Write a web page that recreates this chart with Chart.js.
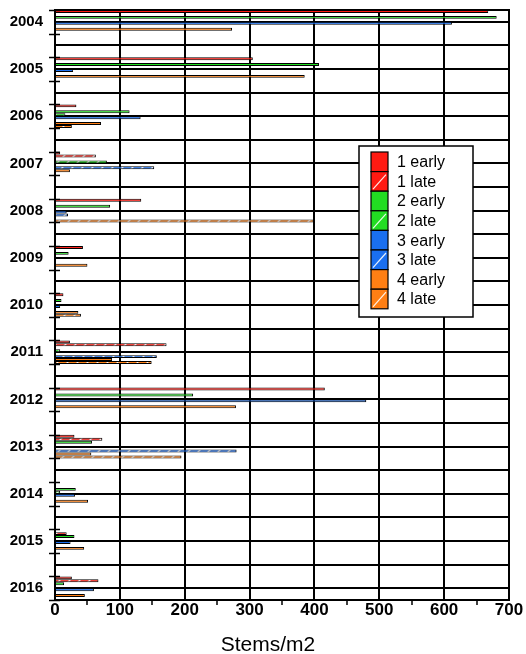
<!DOCTYPE html>
<html>
<head>
<meta charset="utf-8">
<script src="https://cdn.jsdelivr.net/npm/chart.js@4"></script>
<style>
  html, body { margin: 0; padding: 0; background: #fff; }
  canvas { display: block; }
</style>
</head>
<body>
<canvas id="c" width="526" height="654"></canvas>
<script>
// Years on the category axis (top to bottom)
const years = ['2004', '2005', '2006', '2007', '2008', '2009', '2010',
               '2011', '2012', '2013', '2014', '2015', '2016'];

// Series names
const seriesNames = ['1 early', '1 late', '2 early', '2 late',
                     '3 early', '3 late', '4 early', '4 late'];

// Stem density (stems/m2) per year, one array per site and sampling time
const early1 = [668, 305, 33, 8, 133, 43, 13, 23, 416, 30, 0, 0, 26];
const late1  = [0, 0, 0, 63, 0, 0, 0, 172, 0, 73, 0, 18, 67];
const early2 = [681, 407, 115, 0, 85, 21, 10, 0, 213, 57, 32, 30, 14];
const late2  = [0, 0, 16, 80, 0, 0, 0, 8, 0, 0, 8, 0, 0];
const early3 = [612, 28, 132, 0, 18, 0, 8, 0, 480, 0, 31, 24, 60];
const late3  = [0, 0, 0, 153, 20, 0, 0, 157, 0, 280, 0, 0, 0];
const early4 = [273, 385, 71, 23, 0, 50, 36, 88, 279, 56, 51, 45, 46];
const late4  = [0, 0, 26, 0, 399, 0, 40, 149, 0, 195, 0, 0, 0];

// Value-axis tick labels and title
const xTickLabels = [0, 100, 200, 300, 400, 500, 600, 700];
const xTitle = 'Stems/m2';

const seriesValues = [early1, late1, early2, late2, early3, late3, early4, late4];
const baseColors = ['#ff1a12', '#ff1a12', '#22dd22', '#22dd22',
                    '#1a6ff0', '#1a6ff0', '#ff7f14', '#ff7f14'];
const hatched = [false, true, false, true, false, true, false, true];

const SANS = "'Liberation Sans', Arial, sans-serif";

// Diagonal white hatching for the "late" samplings
function hatchPattern(color) {
  const c = document.createElement('canvas');
  c.width = c.height = 10;
  const g = c.getContext('2d');
  g.fillStyle = color;
  g.fillRect(0, 0, 10, 10);
  g.strokeStyle = 'rgba(255,255,255,0.95)';
  g.lineWidth = 1.4;
  g.beginPath();
  g.moveTo(-1, 11); g.lineTo(11, -1);
  g.moveTo(-1, 1); g.lineTo(1, -1);
  g.moveTo(9, 11); g.lineTo(11, 9);
  g.stroke();
  return g.createPattern(c, 'repeat');
}

const isHalf = v => Math.abs(v * 2 - Math.round(v * 2)) < 1e-6;

const datasets = seriesNames.map((name, k) => ({
  label: name,
  data: seriesValues[k].map((v, i) => ({ x: v, y: i })),
  backgroundColor: hatched[k] ? hatchPattern(baseColors[k]) : baseColors[k],
  borderColor: '#000',
  borderWidth: 1
}));

const decorations = {
  id: 'decorations',
  afterDatasetsDraw(chart) {
    const { ctx, chartArea: a } = chart;
    const y = chart.scales.y;
    ctx.save();
    ctx.strokeStyle = '#000';
    ctx.lineWidth = 2;
    ctx.strokeRect(a.left, a.top, a.right - a.left, a.bottom - a.top);
    // short marks at the edges of each year's group of bars
    ctx.lineWidth = 1.5;
    y.ticks.forEach(t => {
      if (!isHalf(t.value)) {
        const py = Math.round(y.getPixelForValue(t.value)) + 0.5;
        ctx.beginPath();
        ctx.moveTo(a.left - 6, py);
        ctx.lineTo(a.left + 5, py);
        ctx.stroke();
      }
    });
    ctx.restore();
  },
  afterDraw(chart) {
    const ctx = chart.ctx;
    ctx.save();
    // axis title
    ctx.fillStyle = '#000';
    ctx.font = '21px ' + SANS;
    ctx.textAlign = 'center';
    ctx.textBaseline = 'alphabetic';
    ctx.fillText(xTitle, 268, 651);

    // legend box
    const bx = 359, by = 146, bw = 114, bh = 171;
    ctx.fillStyle = '#fff';
    ctx.fillRect(bx, by, bw, bh);
    ctx.strokeStyle = '#000';
    ctx.lineWidth = 1.5;
    ctx.strokeRect(bx, by, bw, bh);
    const sx = 371, sw = 17, sy = 152, sh = 19.6;
    chart.data.datasets.forEach((ds, k) => {
      const top = sy + k * sh;
      ctx.fillStyle = baseColors[k];
      ctx.fillRect(sx, top, sw, sh);
      if (hatched[k]) {
        ctx.save();
        ctx.beginPath();
        ctx.rect(sx, top, sw, sh);
        ctx.clip();
        ctx.strokeStyle = 'rgba(255,255,255,0.9)';
        ctx.lineWidth = 1.2;
        ctx.beginPath();
        ctx.moveTo(sx + 2, top + sh - 2);
        ctx.lineTo(sx + sw - 2, top + 3);
        ctx.stroke();
        ctx.restore();
      }
      ctx.strokeStyle = '#000';
      ctx.lineWidth = 1.2;
      ctx.strokeRect(sx, top, sw, sh);
      ctx.fillStyle = '#000';
      ctx.font = '16px ' + SANS;
      ctx.textAlign = 'left';
      ctx.textBaseline = 'middle';
      ctx.fillText(ds.label, 397, top + sh / 2 + 1);
    });
    ctx.restore();
  }
};

new Chart(document.getElementById('c'), {
  type: 'bar',
  data: { datasets },
  plugins: [decorations],
  options: {
    responsive: false,
    animation: false,
    devicePixelRatio: 1,
    indexAxis: 'y',
    layout: { padding: { top: 10, right: 17, left: 0, bottom: 0 } },
    plugins: { legend: { display: false }, tooltip: { enabled: false } },
    // the bar ruler sees the quarter-step ticks, so a group spans two of them
    datasets: { bar: { categoryPercentage: 2, barPercentage: 1 } },
    scales: {
      x: {
        type: 'linear',
        position: 'bottom',
        min: 0,
        max: 700,
        ticks: {
          stepSize: 50,
          autoSkip: false,
          maxRotation: 0,
          padding: -5,
          color: '#000',
          font: { family: SANS, size: 17, weight: 'bold' },
          callback: v => xTickLabels.includes(v) ? String(v) : ''
        },
        grid: {
          color: c => (c.tick && xTickLabels.includes(c.tick.value)) ? '#000' : 'rgba(0,0,0,0)',
          tickColor: c => (c.tick && !xTickLabels.includes(c.tick.value)) ? '#000' : 'rgba(0,0,0,0)',
          lineWidth: 2,
          tickWidth: 1.5,
          tickLength: 5
        },
        border: { color: '#000', width: 2 },
        afterFit: s => { s.height = 54; s.paddingLeft = 0; s.paddingRight = 0; }
      },
      y: {
        type: 'linear',
        reverse: true,
        offset: false,
        min: -0.25,
        max: 12.25,
        ticks: {
          stepSize: 0.25,
          autoSkip: false,
          padding: 7,
          color: '#000',
          font: { family: SANS, size: 15, weight: 'bold' },
          callback: v => Number.isInteger(v) ? years[v] : ''
        },
        grid: {
          offset: false,
          color: c => (c.tick && isHalf(c.tick.value)) ? '#000' : 'rgba(0,0,0,0)',
          tickColor: 'rgba(0,0,0,0)',
          lineWidth: 2,
          tickLength: 5
        },
        border: { color: '#000', width: 2 },
        afterFit: s => { s.width = 55; s.paddingTop = 0; s.paddingBottom = 0; }
      }
    }
  }
});
</script>
</body>
</html>
